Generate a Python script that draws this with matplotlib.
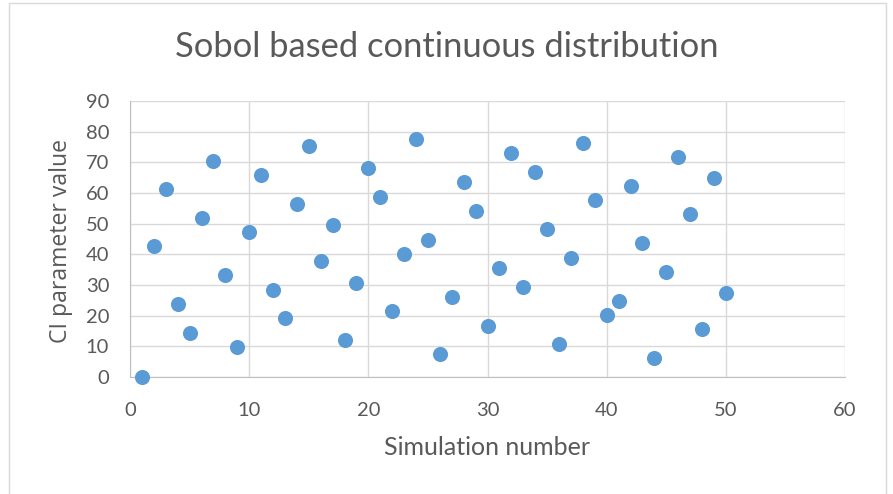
import matplotlib
matplotlib.use("Agg")
import matplotlib.pyplot as plt
from matplotlib.patches import Rectangle

simulation = list(range(1, 51))
ci_values = [0.0, 42.7, 61.3, 23.8, 14.3, 51.8, 70.6, 33.2, 9.8, 47.2,
             65.9, 28.4, 19.1, 56.4, 75.3, 37.8, 49.6, 12.1, 30.7, 68.1,
             58.8, 21.5, 40.1, 77.6, 44.8, 7.4, 26.1, 63.5, 54.2, 16.7,
             35.4, 72.9, 29.5, 67.0, 48.4, 10.9, 38.9, 76.4, 57.6, 20.2,
             24.9, 62.4, 43.7, 6.2, 34.3, 71.8, 53.0, 15.6, 64.8, 27.3]
x_ticks = [0, 10, 20, 30, 40, 50, 60]
y_ticks = [0, 10, 20, 30, 40, 50, 60, 70, 80, 90]

text_color = "#595959"
grid_color = "#D9D9D9"
point_color = "#5B9BD5"

fig = plt.figure(figsize=(8.93, 4.94), dpi=100)
fig.patch.set_facecolor("white")
# chart-area frame
fig.add_artist(Rectangle((9 / 893, -0.01), 877 / 893, 1.004, transform=fig.transFigure,
                         fill=False, edgecolor="#D9D9D9", linewidth=1))

ax = fig.add_axes([0.1456, 0.2368, 0.8007, 0.5587])
ax.scatter(simulation, ci_values, s=118, color=point_color, zorder=3,
           linewidths=0, clip_on=False)

ax.set_xlim(0, 60)
ax.set_ylim(0, 90)
ax.set_xticks(x_ticks)
ax.set_yticks(y_ticks)
ax.grid(True, color=grid_color, linewidth=1)
ax.set_axisbelow(True)
for side in ["top", "right"]:
    ax.spines[side].set_visible(False)
for side in ["left", "bottom"]:
    ax.spines[side].set_color("#BFBFBF")
ax.tick_params(length=0, labelsize=14.5, labelcolor=text_color)
ax.tick_params(axis="x", pad=18)
ax.tick_params(axis="y", pad=15)
for lbl in ax.get_xticklabels() + ax.get_yticklabels():
    lbl.set_fontfamily("Lato")

fig.text(61 / 893, 1 - 241 / 494, "CI parameter value", rotation=90, ha="center",
         va="center", fontsize=16.6, color=text_color, fontfamily="Open Sans")
fig.text(487 / 893, 1 - 447 / 494, "Simulation number", ha="center", va="center",
         fontsize=18, color=text_color, fontfamily="Lato")
fig.text(447 / 893, 1 - 47 / 494, "Sobol based continuous distribution", ha="center",
         va="center", fontsize=24.8, color=text_color, fontfamily="Lato")

fig.savefig("out.png", dpi=100)
